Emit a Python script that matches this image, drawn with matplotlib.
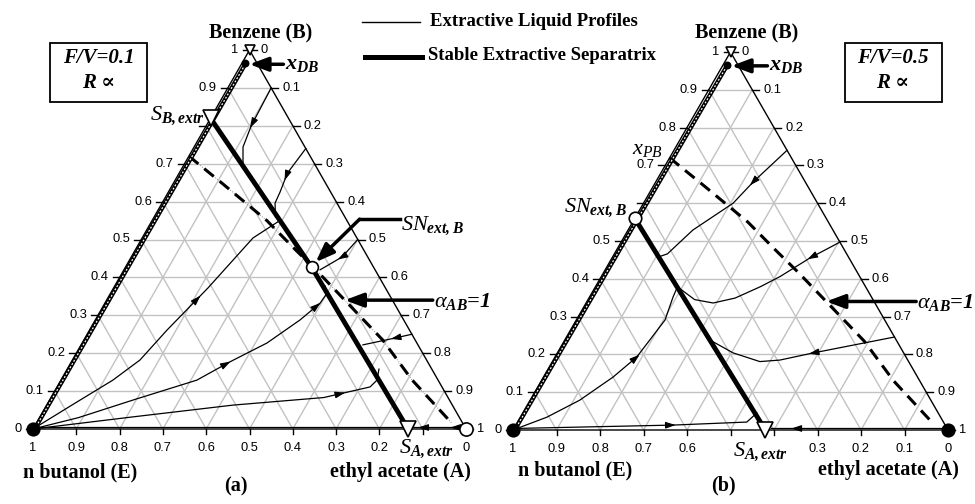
import numpy as np
import matplotlib.pyplot as plt
from matplotlib.patches import Rectangle

plt.rcParams['mathtext.fontset'] = 'custom'
plt.rcParams['mathtext.rm'] = 'Liberation Serif'
plt.rcParams['mathtext.it'] = 'Liberation Serif:italic'
plt.rcParams['mathtext.bf'] = 'Liberation Serif:bold'
plt.rcParams['mathtext.bfit'] = 'Liberation Serif:italic:bold'

SERIF = ['Liberation Serif', 'DejaVu Serif']
SANS = 'Liberation Sans'

# compositions are given as (x_A, x_B), x_E = 1 - x_A - x_B
grid_vals = [0.1, 0.2, 0.3, 0.4, 0.5, 0.6, 0.7, 0.8, 0.9]
tick_text = ['0', '0.1', '0.2', '0.3', '0.4', '0.5', '0.6', '0.7', '0.8', '0.9', '1']

# alpha_AB = 1 line (same in both panels)
alpha_A = [0.0, 0.11, 0.265, 0.36, 0.45, 0.55, 0.69, 0.81, 0.96]
alpha_B = [0.72, 0.65, 0.55, 0.48, 0.415, 0.34, 0.235, 0.13, 0.015]

# ---- panel (a): F/V = 0.1 ----
a_xDB = (0.008, 0.965)
a_SB = (0.0, 0.82)
a_SN = (0.43, 0.427)
a_SA = (0.866, 0.0)
a_sep = [(0.0, 0.82), (0.43, 0.427), (0.866, 0.0)]
a_p1 = [(0.10, 0.90), (0.104, 0.80), (0.113, 0.744), (0.121, 0.728), (0.135, 0.70)]
a_p2 = [(0.26, 0.74), (0.25, 0.675), (0.258, 0.625), (0.261, 0.596), (0.28, 0.56)]
a_p0 = [(0.50, 0.50), (0.487, 0.454), (0.453, 0.42)]
a_p3 = [(0.0, 0.0), (0.06, 0.065), (0.12, 0.129), (0.156, 0.182), (0.179, 0.261),
        (0.218, 0.372), (0.256, 0.504), (0.295, 0.55)]
a_p4 = [(0.0, 0.0), (0.09, 0.03), (0.193, 0.0765), (0.314, 0.129), (0.366, 0.177),
        (0.427, 0.227), (0.473, 0.288), (0.497, 0.332), (0.50, 0.359), (0.485, 0.378)]
a_p5 = [(0.75, 0.25), (0.716, 0.24), (0.651, 0.222)]
a_p6 = [(0.0, 0.0), (0.215, 0.032), (0.43, 0.063), (0.63, 0.083), (0.723, 0.111),
        (0.73, 0.129), (0.72, 0.158)]
a_bot1 = [(0.0, 0.004), (0.86, 0.004)]
a_bot2 = [(1.0, 0.004), (0.87, 0.004)]
a_edge = [(0.009, 0.962), (0.004, 0.0)]

# ---- panel (b): F/V = 0.5 ----
b_xDB = (0.01, 0.966)
b_SN = (0.0, 0.56)
b_SA = (0.58, 0.0)
b_sep = [(0.0, 0.56), (0.58, 0.0)]
b_p1 = [(0.26, 0.74), (0.224, 0.656), (0.206, 0.60), (0.149, 0.529), (0.122, 0.466), (0.106, 0.458)]
b_p2 = [(0.503, 0.497), (0.455, 0.455), (0.411, 0.406), (0.379, 0.379), (0.336, 0.349),
        (0.292, 0.336), (0.245, 0.345), (0.19, 0.378)]
b_p3 = [(0.754, 0.246), (0.585, 0.203), (0.521, 0.185), (0.477, 0.181), (0.404, 0.204), (0.34, 0.235)]
b_p4 = [(0.0, 0.0), (0.061, 0.034), (0.114, 0.079), (0.16, 0.14), (0.188, 0.193),
        (0.204, 0.291), (0.192, 0.352), (0.189, 0.376)]
b_p5 = [(0.0, 0.004), (0.361, 0.013), (0.527, 0.021), (0.538, 0.045)]
b_p6 = [(1.0, 0.004), (0.59, 0.004)]
b_edge = [(0.01, 0.963), (0.004, 0.0)]

# triangle placement in the picture: E corner x, y, side width, height
geo_a = (33, 429, 433, 379)
geo_b = (513, 430, 435, 378)


def to_xy(A, B, g):
    x0, y0, w, h = g
    A = np.asarray(A, float)
    B = np.asarray(B, float)
    return x0 + w * (A + B / 2), y0 - h * B


def frame(ax, g, skip_left, skip_bottom):
    for v in grid_vals:
        for A1, B1, A2, B2 in [(0, v, 1 - v, v), (v, 0, v, 1 - v), (1 - v, 0, 0, 1 - v)]:
            x, y = to_xy([A1, A2], [B1, B2], g)
            ax.plot(x, y, color='#c2c2c2', lw=1, zorder=1)
    x, y = to_xy([0, 1, 0, 0], [0, 0, 1, 0], g)
    ax.plot(x, y, color='k', lw=1, zorder=3)
    for lab in tick_text:
        v = float(lab)
        x, y = to_xy(0, v, g)
        ax.plot([x - 7, x], [y, y], 'k', lw=1, zorder=3)
        if lab not in skip_left:
            ax.text(x - 11, y, lab, ha='right', va='center', fontsize=9.3, family=SANS)
        x, y = to_xy(v, 1 - v, g)
        ax.plot([x, x + 7], [y, y], 'k', lw=1, zorder=3)
        ax.text(x + 11, y, lab, ha='left', va='center', fontsize=9.3, family=SANS)
        x, y = to_xy(1 - v, 0, g)
        ax.plot([x, x], [y, y + 5], 'k', lw=1, zorder=3)
        if lab not in skip_bottom:
            ax.text(x, y + 19, lab, ha='center', va='center', fontsize=9.3, family=SANS)


def profile(ax, pts, g, arrows=(), lw=0.9):
    A, B = zip(*pts)
    x, y = to_xy(A, B, g)
    ax.plot(x, y, color='k', lw=lw, zorder=4)
    s = np.concatenate([[0], np.cumsum(np.hypot(np.diff(x), np.diff(y)))])
    for f in arrows:
        t = f * s[-1]
        k = int(np.clip(np.searchsorted(s, t), 1, len(x) - 1))
        px, py = np.interp(t, s, x), np.interp(t, s, y)
        dx, dy = x[k] - x[k - 1], y[k] - y[k - 1]
        n = np.hypot(dx, dy)
        dx, dy = dx / n, dy / n
        ax.annotate('', xy=(px + 4 * dx, py + 4 * dy), xytext=(px - 4 * dx, py - 4 * dy),
                    arrowprops=dict(arrowstyle='-|>,head_length=0.6,head_width=0.2',
                                    color='k', lw=0.8, shrinkA=0, shrinkB=0,
                                    mutation_scale=10), zorder=5)


def edge_profile(ax, pts, g):
    A, B = zip(*pts)
    x, y = to_xy(A, B, g)
    ax.plot(x, y, color='k', lw=3.0, solid_capstyle='butt', zorder=4)
    ax.plot(x, y, color='w', lw=0.9, ls=(0, (1.5, 1.5)), zorder=4.1)


def big_arrow(ax, tip, tail):
    ax.annotate('', xy=tip, xytext=tail,
                arrowprops=dict(arrowstyle='-|>,head_length=0.8,head_width=0.3',
                                color='k', lw=2.5, shrinkA=0, shrinkB=0,
                                mutation_scale=14), zorder=7)


def marker(ax, pt, g, m, ms, fc):
    x, y = to_xy(pt[0], pt[1], g)
    ax.plot(x, y, marker=m, ms=ms, mfc=fc, mec='k', mew=1.2, ls='none', zorder=8)
    return float(x), float(y)


fig = plt.figure(figsize=(9.75, 5.04), dpi=100)
ax = fig.add_axes([0, 0, 1, 1])
ax.set_xlim(0, 975)
ax.set_ylim(504, 0)
ax.axis('off')

title_kw = dict(fontsize=14.5, fontweight='bold', family=SERIF, ha='center', va='center')
lab_kw = dict(fontsize=16, family=SERIF)

# ---------------- panel (a) ----------------
g = geo_a
frame(ax, g, skip_left=['0.8'], skip_bottom=['0.1'])
xa, ya = to_xy(alpha_A, alpha_B, g)
ax.plot(xa, ya, color='0.55', lw=0.7, ls=(0, (1, 1.5)), zorder=4)
ax.plot(xa, ya, color='k', lw=2.2, ls=(0, (4, 2.5)), zorder=4)
sx, sy = to_xy(*zip(*a_sep), g)
ax.plot(sx, sy, color='k', lw=3.5, zorder=5)
edge_profile(ax, a_edge, g)
profile(ax, a_p1, g, [0.5])
profile(ax, a_p2, g, [0.45])
profile(ax, a_p0, g, [0.5])
profile(ax, a_p3, g, [0.65])
profile(ax, a_p4, g, [0.61, 0.93])
profile(ax, a_p5, g, [0.35])
profile(ax, a_p6, g, [0.86])
profile(ax, a_bot1, g)
profile(ax, a_bot2, g, [0.22, 0.79])

marker(ax, (0, 1), g, 'v', 7.5, 'w')
dbx, dby = marker(ax, a_xDB, g, 'o', 4.5, 'k')
sbx, sby = marker(ax, a_SB, g, 'v', 12, 'w')
snx, sny = marker(ax, a_SN, g, 'o', 8.5, 'w')
sax, say = marker(ax, a_SA, g, 'v', 11, 'w')
marker(ax, (1, 0), g, 'o', 9.5, 'w')
marker(ax, (0, 0), g, 'o', 9, 'k')

big_arrow(ax, (dbx + 4, dby + 1), (dbx + 38, dby + 1))
ax.text(dbx + 40, dby + 1, r'$\mathbfit{x}_{\mathbfit{DB}}$', ha='left', va='center', **lab_kw)
ax.text(sbx - 6, sby - 2, r'$S_{\mathbfit{B,extr}}$', ha='right', va='center', **lab_kw)
ax.plot([snx + 88, snx + 48], [sny - 48, sny - 48], color='k', lw=2.5, zorder=7)
big_arrow(ax, (snx + 4, sny - 5), (snx + 48, sny - 48))
ax.text(snx + 89, sny - 41, r'$SN_{\mathbfit{ext,B}}$', ha='left', va='center', **lab_kw)
tx, ty = to_xy(alpha_A[5], alpha_B[5], g)
big_arrow(ax, (tx, ty), (tx + 88, ty))
ax.text(tx + 89, ty + 1, r'$\alpha_{\mathbfit{AB}}$=1', ha='left', va='center',
        fontweight='bold', style='italic', **lab_kw)
ax.text(sax + 18, say + 20, r'$S_{\mathbfit{A,extr}}$', ha='center', va='center', **lab_kw)

ax.text(261, 33, 'Benzene (B)', **title_kw)
ax.text(80, 472, 'n butanol (E)', **title_kw)
ax.text(400, 472, 'ethyl acetate (A)', **title_kw)
ax.text(236, 486, '(a)', **title_kw)

ax.add_patch(Rectangle((50, 43), 97, 59, fill=False, ec='k', lw=1.3, zorder=6))
ax.text(98.5, 58, 'F/V=0.1', ha='center', va='center', fontsize=15, fontweight='bold',
        style='italic', family=SERIF)
ax.text(99, 83, 'R ∝', ha='center', va='center', fontsize=15, fontweight='bold',
        style='italic', family=SERIF)

# ---------------- panel (b) ----------------
g = geo_b
frame(ax, g, skip_left=['0.6'], skip_bottom=['0.5', '0.4'])
xa, ya = to_xy(alpha_A, alpha_B, g)
ax.plot(xa, ya, color='k', lw=2.2, ls=(0, (4, 2.5)), zorder=4)
sx, sy = to_xy(*zip(*b_sep), g)
ax.plot(sx, sy, color='k', lw=3.5, zorder=5)
edge_profile(ax, b_edge, g)
profile(ax, b_p1, g, [0.28])
profile(ax, b_p2, g, [0.18])
profile(ax, b_p3, g, [0.44])
profile(ax, b_p4, g, [0.64])
profile(ax, b_p5, g, [0.64])
profile(ax, b_p6, g, [0.86])

marker(ax, (0, 1), g, 'v', 7.5, 'w')
dbx, dby = marker(ax, b_xDB, g, 'o', 4.5, 'k')
snx, sny = marker(ax, b_SN, g, 'o', 9, 'w')
sax, say = marker(ax, b_SA, g, 'v', 12, 'w')
marker(ax, (1, 0), g, 'o', 9, 'k')
marker(ax, (0, 0), g, 'o', 9, 'k')

big_arrow(ax, (dbx + 4, dby + 1), (dbx + 40, dby + 1))
ax.text(dbx + 42, dby + 1, r'$\mathbfit{x}_{\mathbfit{DB}}$', ha='left', va='center', **lab_kw)
px_, py_ = to_xy(alpha_A[0], alpha_B[0], g)
ax.text(px_ - 22, py_ - 8, r'$x_{PB}$', ha='center', va='center', **lab_kw)
ax.text(snx - 8, sny - 11, r'$SN_{\mathbfit{ext,B}}$', ha='right', va='center', **lab_kw)
tx, ty = to_xy(alpha_A[5], alpha_B[5], g)
big_arrow(ax, (tx, ty), (tx + 90, ty))
ax.text(tx + 91, ty + 1, r'$\alpha_{\mathbfit{AB}}$=1', ha='left', va='center',
        fontweight='bold', style='italic', **lab_kw)
ax.text(sax - 5, say + 22, r'$S_{\mathbfit{A,extr}}$', ha='center', va='center', **lab_kw)

ax.text(747, 33, 'Benzene (B)', **title_kw)
ax.text(575, 470, 'n butanol (E)', **title_kw)
ax.text(888, 470, 'ethyl acetate (A)', **title_kw)
ax.text(723, 485, '(b)', **title_kw)

ax.add_patch(Rectangle((845, 43), 97, 59, fill=False, ec='k', lw=1.3, zorder=6))
ax.text(893, 58, 'F/V=0.5', ha='center', va='center', fontsize=15, fontweight='bold',
        style='italic', family=SERIF)
ax.text(893, 83, 'R ∝', ha='center', va='center', fontsize=15, fontweight='bold',
        style='italic', family=SERIF)

# ---------------- legend ----------------
ax.plot([362, 420], [22, 22], color='k', lw=1)
ax.text(430, 22, 'Extractive Liquid Profiles', ha='left', va='center', fontsize=13.5,
        fontweight='bold', family=SERIF)
ax.plot([365, 422], [57, 57], color='k', lw=3.6)
ax.text(428, 55, 'Stable Extractive Separatrix', ha='left', va='center', fontsize=13.5,
        fontweight='bold', family=SERIF)

fig.savefig('out.png', dpi=100)
